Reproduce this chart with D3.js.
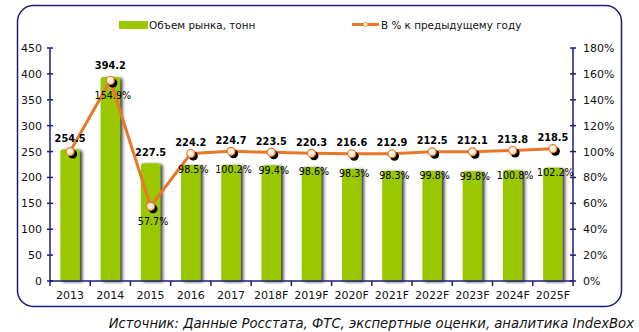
<!DOCTYPE html>
<html><head><meta charset="utf-8">
<script src="https://cdn.jsdelivr.net/npm/d3@7/dist/d3.min.js"></script>
<style>
html,body{margin:0;padding:0;background:#fff;}
svg{display:block;font-family:"DejaVu Sans",Verdana,sans-serif;}
</style></head>
<body>
<svg id="chart" width="639" height="332"></svg>
<script>
const categories = ["2013","2014","2015","2016","2017","2018F","2019F","2020F","2021F","2022F","2023F","2024F","2025F"];
const marketVolume = [254.5,394.2,227.5,224.2,224.7,223.5,220.3,216.6,212.9,212.5,212.1,213.8,218.5];
const pctPrev = [100.0,154.9,57.7,98.5,100.2,99.4,98.6,98.3,98.3,99.8,99.8,100.8,102.2];
const pctLabels = ["","154.9%","57.7%","98.5%","100.2%","99.4%","98.6%","98.3%","98.3%","99.8%","99.8%","100.8%","102.2%"];
const leftTicks = [0,50,100,150,200,250,300,350,400,450];
const rightTicks = [0,20,40,60,80,100,120,140,160,180];
const legendBar = "Объем рынка, тонн";
const legendLine = "В % к предыдущему году";
const sourceText = "Источник: Данные Росстата, ФТС, экспертные оценки, аналитика IndexBox";

const svg = d3.select("#chart");
const axisColor = "#1c1c7a";
const barColor = "#99c700";
const lineColor = "#e8772a";

const x = d3.scaleBand().domain(categories).range([50, 573]).padding(0);
const y = d3.scaleLinear().domain([0, 450]).range([281, 48]);
const yR = d3.scaleLinear().domain([0, 180]).range([281, 48]);
const barW = 19.5;

const defs = svg.append("defs");
const f = defs.append("filter").attr("id","bs").attr("x","-30%").attr("y","-10%").attr("width","170%").attr("height","130%");
f.append("feDropShadow").attr("dx",2.5).attr("dy",1).attr("stdDeviation",1.6).attr("flood-color","#222").attr("flood-opacity",0.85);
const g = defs.append("radialGradient").attr("id","mk").attr("cx","35%").attr("cy","35%").attr("r","70%");
g.append("stop").attr("offset","0%").attr("stop-color","#ffffff");
g.append("stop").attr("offset","100%").attr("stop-color","#ffd9a8");

// frame
svg.append("rect").attr("x",17.5).attr("y",5.5).attr("width",604).attr("height",301)
  .attr("rx",16).attr("fill","#fff").attr("stroke",axisColor).attr("stroke-width",1.5);

// bars
svg.append("g").selectAll("path").data(marketVolume).join("path")
  .attr("filter","url(#bs)")
  .attr("fill", barColor)
  .attr("d",(d,i)=>{
    const x0 = x(categories[i]) + x.bandwidth()/2 - barW/2, x1 = x0 + barW;
    const yt = y(d), yb = y(0), r = 2.5;
    return `M${x0},${yb}V${yt+r}Q${x0},${yt} ${x0+r},${yt}H${x1-r}Q${x1},${yt} ${x1},${yt+r}V${yb}Z`;
  });

// axes
const ax = svg.append("g").attr("stroke",axisColor).attr("stroke-width",1.5);
ax.append("line").attr("x1",50).attr("x2",50).attr("y1",y(450)).attr("y2",y(0));
ax.append("line").attr("x1",573).attr("x2",573).attr("y1",yR(180)).attr("y2",yR(0));
ax.append("line").attr("x1",50).attr("x2",573).attr("y1",y(0)).attr("y2",y(0));
ax.selectAll(".lt").data(leftTicks).join("line").attr("x1",47).attr("x2",53).attr("y1",d=>y(d)).attr("y2",d=>y(d));
ax.selectAll(".rt").data(rightTicks).join("line").attr("class","rt").attr("x1",570).attr("x2",576).attr("y1",d=>yR(d)).attr("y2",d=>yR(d));
const bounds = categories.map(c=>x(c)).concat([x(categories[categories.length-1])+x.bandwidth()]);
ax.selectAll(".xt").data(bounds).join("line").attr("class","xt").attr("x1",d=>d).attr("x2",d=>d).attr("y1",y(0)).attr("y2",y(0)+5);

svg.append("g").selectAll("text").data(leftTicks).join("text")
  .attr("x",42).attr("y",d=>y(d)).attr("dy","0.36em").attr("text-anchor","end")
  .attr("font-size",11).attr("fill","#111").text(d=>d);
svg.append("g").selectAll("text").data(rightTicks).join("text")
  .attr("x",583).attr("y",d=>yR(d)).attr("dy","0.36em").attr("text-anchor","start")
  .attr("font-size",11).attr("fill","#111").text(d=>d+"%");
svg.append("g").selectAll("text").data(categories).join("text")
  .attr("x",d=>x(d)+x.bandwidth()/2).attr("y",295).attr("dy","0.36em").attr("text-anchor","middle")
  .attr("font-size",11).attr("fill","#111").text(d=>d);

// line
const cx = (i)=>x(categories[i])+x.bandwidth()/2;
const line = d3.line().x((d,i)=>cx(i)).y(d=>yR(d));
svg.append("path").datum(pctPrev).attr("d",line).attr("fill","none")
  .attr("stroke",lineColor).attr("stroke-width",3).attr("stroke-linejoin","round");
svg.append("g").selectAll("circle").data(pctPrev).join("circle")
  .attr("cx",(d,i)=>cx(i)+2.5).attr("cy",d=>yR(d)+2.5).attr("r",4.5).attr("fill","#000");
svg.append("g").selectAll("circle").data(pctPrev).join("circle")
  .attr("cx",(d,i)=>cx(i)).attr("cy",d=>yR(d)).attr("r",4).attr("fill","url(#mk)")
  .attr("stroke",lineColor).attr("stroke-width",1.2);

// value labels
svg.append("g").selectAll("text").data(marketVolume).join("text")
  .attr("x",(d,i)=>cx(i)).attr("y",(d,i)=>Math.min(y(d), yR(pctPrev[i]))-11).attr("dy","0.36em")
  .attr("text-anchor","middle").attr("font-size",9.8).attr("font-weight","bold").attr("fill","#000")
  .text(d=>d.toFixed(1));
svg.append("g").selectAll("text").data(pctLabels).join("text")
  .attr("x",(d,i)=>cx(i)+2.5).attr("y",(d,i)=>Math.max(yR(pctPrev[i])+15, y(marketVolume[i])+5)).attr("dy","0.36em")
  .attr("text-anchor","middle").attr("font-size",9.6).attr("fill","#000")
  .text(d=>d);

// legend
svg.append("rect").attr("x",119).attr("y",21).attr("width",29).attr("height",8).attr("fill",barColor);
svg.append("text").attr("x",149).attr("y",25).attr("dy","0.36em").attr("font-size",10.4).attr("fill","#111").text(legendBar);
svg.append("line").attr("x1",352).attr("x2",379).attr("y1",24.5).attr("y2",24.5).attr("stroke",lineColor).attr("stroke-width",3);
svg.append("circle").attr("cx",365.5).attr("cy",24.5).attr("r",2.2).attr("fill","#fff").attr("stroke",lineColor).attr("stroke-width",0.8);
svg.append("text").attr("x",381).attr("y",25).attr("dy","0.36em").attr("font-size",10.4).attr("fill","#111").text(legendLine);

// source
svg.append("text").attr("x",634).attr("y",323).attr("dy","0.36em").attr("text-anchor","end")
  .attr("font-size",13.2).attr("font-style","italic").attr("fill","#111").text(sourceText);
</script>
</body></html>
